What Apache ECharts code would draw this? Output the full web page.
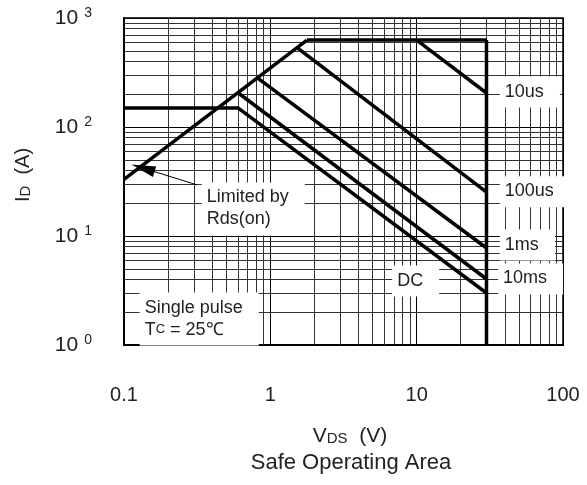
<!DOCTYPE html>
<html><head><meta charset="utf-8">
<script src="https://cdn.jsdelivr.net/npm/echarts@6/dist/echarts.min.js"></script>
<style>html,body{margin:0;padding:0;background:#fff}#c{width:587px;height:485px}</style>
</head><body><div id="c"></div>
<script>
// Axis tick labels
const xTickLabels = ['0.1', '1', '10', '100'];
const yTickExponents = ['0', '1', '2', '3'];
// Minor grid values
const xGrid = [0.2,0.3,0.4,0.5,0.6,0.7,0.8,0.9, 2,3,4,5,6,7,8,9, 20,30,40,50,60,70,80,90];
const yGrid = [2,3,4,5,6,7,8,9, 20,30,40,50,60,70,80,90, 200,300,400,500,600,700,800,900];
// SOA boundary curves (VDS in V, ID in A)
const rdsX = [0.1, 1.78];      const rdsY = [33, 628];
const topX = [1.78, 30];       const topY = [628, 628];
const vmaxX = [30, 30];        const vmaxY = [628, 1];
const us10X = [10, 30];        const us10Y = [628, 205];
const us100X = [1.53, 30];     const us100Y = [531, 25.3];
const ms1X = [0.815, 30];      const ms1Y = [282, 7.76];
const ms10X = [0.604, 30];     const ms10Y = [205, 4.03];
const dcX = [0.1, 0.604, 30];  const dcY = [149, 149, 3.0];
// Annotation texts and anchor points (left edge, vertical middle)
const annoText = ['10us', '100us', '1ms', '10ms', 'DC', 'Limited by\nRds(on)', 'Single pulse\nT{s|C} = 25℃'];
const annoX = [37, 37, 37, 36, 6.8, 0.34, 0.128];
const annoY = [209, 25.4, 8.26, 4.04, 3.86, 17.7, 1.73];
const arrowFrom = [0.316, 29.4];
const arrowTo = [0.135, 42];

const zip = (xs, ys) => xs.map((x, i) => [x, ys[i]]);
const TXT = '#222';
const FONT = 'Liberation Sans, Arial, sans-serif';
const curves = [[rdsX,rdsY],[topX,topY],[vmaxX,vmaxY],[us10X,us10Y],[us100X,us100Y],[ms1X,ms1Y],[ms10X,ms10Y],[dcX,dcY]];

const chart = echarts.init(document.getElementById('c'));
const series = [];
series.push({
  type: 'line', data: [], z: 1, silent: true,
  markLine: {
    silent: true, symbol: 'none', animation: false,
    label: {show: false},
    lineStyle: {color: '#333', width: 1, type: 'solid'},
    data: xGrid.map(v => ({xAxis: v})).concat(yGrid.map(v => ({yAxis: v})))
  }
});
curves.forEach(([xs, ys]) => series.push({
  type: 'line', data: zip(xs, ys), showSymbol: false, symbol: 'none', z: 5,
  lineStyle: {color: '#000', width: 3.5}, animation: false
}));
series.push({
  type: 'line', data: [], z: 6,
  markLine: {
    silent: true, animation: false, symbol: ['none', 'triangle'], symbolSize: [11, 24],
    label: {show: false},
    lineStyle: {color: '#000', width: 1, type: 'solid'},
    data: [[{coord: arrowFrom}, {coord: arrowTo}]]
  }
});

const titleGraphics = [
  {type: 'text', x: 23, y: 175, rotation: Math.PI / 2, z: 10,
   style: {text: 'I{d|D}  (A)', fill: TXT, font: '20px ' + FONT, align: 'center', verticalAlign: 'middle',
           textAlign: 'center', textVerticalAlign: 'middle',
           rich: {d: {fontSize: 15, fontFamily: FONT, fill: TXT, verticalAlign: 'bottom'}}}},
  {type: 'text', x: 350, y: 436, z: 10,
   style: {text: 'V{d|DS}  (V)', fill: TXT, font: '21px ' + FONT, align: 'center', verticalAlign: 'middle',
           textAlign: 'center', textVerticalAlign: 'middle',
           rich: {d: {fontSize: 15, fontFamily: FONT, fill: TXT, verticalAlign: 'bottom'}}}},
  {type: 'text', x: 351, y: 463, z: 10,
   style: {text: 'Safe Operating Area', fill: TXT, font: '22px ' + FONT, align: 'center', verticalAlign: 'middle',
           textAlign: 'center', textVerticalAlign: 'middle'}}
];

chart.setOption({
  animation: false,
  grid: {left: 124, right: 24, top: 18, bottom: 140, show: true, borderColor: '#000', borderWidth: 1.5, z: 3},
  xAxis: {
    type: 'log', logBase: 10, min: 0.1, max: 100, splitNumber: 3,
    axisLine: {show: true, lineStyle: {color: '#000', width: 2}},
    axisTick: {show: false},
    splitLine: {show: true, lineStyle: {color: '#000', width: 1}},
    axisLabel: {
      margin: 40, fontSize: 20, fontFamily: FONT, color: TXT,
      formatter: v => xTickLabels[Math.round(Math.log10(v)) + 1]
    }
  },
  yAxis: {
    type: 'log', logBase: 10, min: 1, max: 1000, splitNumber: 3,
    axisLine: {show: true, lineStyle: {color: '#000', width: 2}},
    axisTick: {show: false},
    splitLine: {show: true, lineStyle: {color: '#000', width: 1}},
    axisLabel: {
      margin: 32, fontSize: 21, fontFamily: FONT, color: TXT,
      formatter: v => '10{sup|' + yTickExponents[Math.round(Math.log10(v))] + '}',
      rich: {sup: {fontSize: 14, fontFamily: FONT, color: TXT, verticalAlign: 'top', padding: [0, 0, 10, 6]}}
    }
  },
  graphic: titleGraphics,
  series: series
});

// Annotation boxes placed through the chart's own coordinate conversion
const annoGraphics = annoText.map((t, i) => {
  const p = chart.convertToPixel({gridIndex: 0}, [annoX[i], annoY[i]]);
  return {
    type: 'text', x: p[0], y: p[1], z: 20,
    style: {
      text: t, fill: TXT, font: '18px ' + FONT, lineHeight: 22,
      align: 'left', verticalAlign: 'middle', textAlign: 'left', textVerticalAlign: 'middle',
      backgroundColor: '#fff', padding: [4, 16, 5, 5],
      rich: {s: {fontSize: 13, fontFamily: FONT, fill: TXT, verticalAlign: 'middle', lineHeight: 22}}
    }
  };
});
chart.setOption({graphic: titleGraphics.concat(annoGraphics)});
</script></body></html>
